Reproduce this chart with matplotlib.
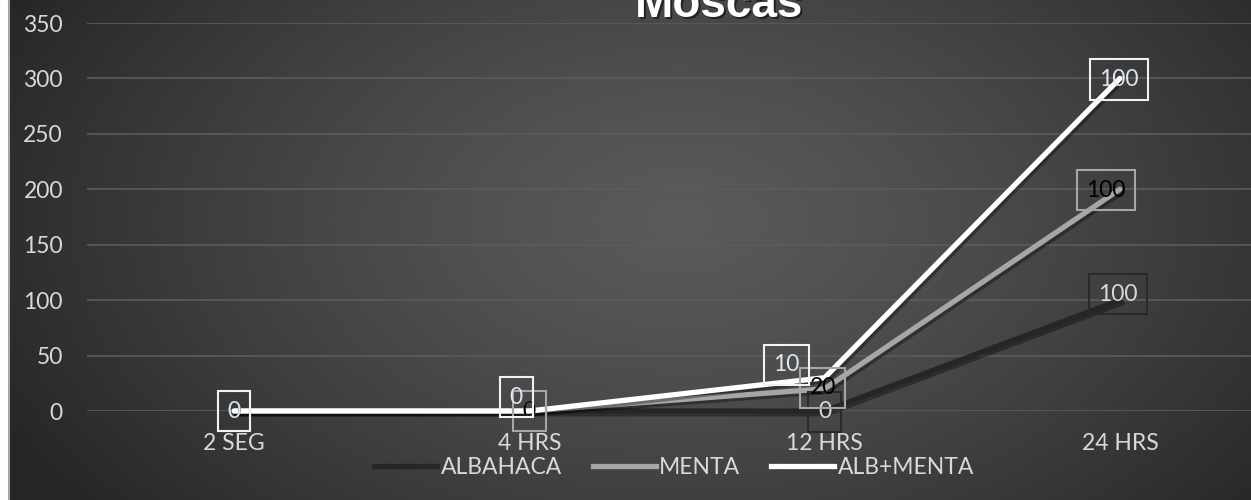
import numpy as np
import matplotlib.pyplot as plt
import matplotlib.patheffects as pe
from matplotlib.patches import Rectangle
from matplotlib.lines import Line2D

# data (stacked line chart, labels show the raw values)
categories = ["2 SEG", "4 HRS", "12 HRS", "24 HRS"]
albahaca = [0, 0, 0, 100]
menta = [0, 0, 20, 100]
alb_menta = [0, 0, 10, 100]
series_names = ["ALBAHACA", "MENTA", "ALB+MENTA"]
y_ticks = [0, 50, 100, 150, 200, 250, 300, 350]

W, H = 1251, 500
DPI = 100
fig = plt.figure(figsize=(W / DPI, H / DPI), dpi=DPI)

# radial background like the excel dark style
bg = fig.add_axes([0, 0, 1, 1], zorder=-10)
yy, xx = np.mgrid[0:H, 0:W]
r = np.sqrt(((xx - 680) / 760.0) ** 2 + ((yy - 220) / 470.0) ** 2)
r = np.clip(r, 0, 1) ** 1.3
c0 = np.array([0x5a, 0x5a, 0x5a]) / 255
c1 = np.array([0x26, 0x26, 0x26]) / 255
img = c0[None, None, :] * (1 - r[..., None]) + c1[None, None, :] * r[..., None]
bg.imshow(img, extent=[0, W, H, 0], aspect="auto")
bg.set_xlim(0, W)
bg.set_ylim(H, 0)
bg.axis("off")
bg.add_patch(Rectangle((0, 0), 8, H, color="white"))
bg.plot([8.5, 8.5], [0, H], color="#a6a6a6", lw=1.5)

# plot area in pixel coords
x0, x1 = 86.5, 1267.5
y_top, y_bot = 23, 411
ax = fig.add_axes([x0 / W, (H - y_bot) / H, (x1 - x0) / W, (y_bot - y_top) / H])
ax.set_facecolor("none")
ax.set_xlim(-0.5, 3.5)
ax.set_ylim(0, 350)
for s in ax.spines.values():
    s.set_visible(False)

fs = 16.5
font = "Lato"
ax.set_yticks(y_ticks)
ax.set_xticks(range(len(categories)))
ax.set_xticklabels(categories)
ax.tick_params(length=0, colors="#d9d9d9", labelsize=fs)
ax.tick_params(axis="y", pad=17)
ax.tick_params(axis="x", pad=16)
for lab in ax.get_xticklabels() + ax.get_yticklabels():
    lab.set_fontfamily(font)
ax.grid(axis="y", color="#5c5c5c", lw=1.2)
ax.set_axisbelow(True)

x = np.arange(len(categories))
s1 = np.array(albahaca)
s2 = s1 + np.array(menta)
s3 = s2 + np.array(alb_menta)
colors = ["#262626", "#a6a6a6", "#ffffff"]
lw = 3.8
shadow = [pe.SimpleLineShadow(offset=(1.5, -2), shadow_color="black", alpha=0.35), pe.Normal()]
for yv, col in zip([s1, s2, s3], colors):
    ax.plot(x, yv, color=col, lw=lw, solid_capstyle="round", path_effects=shadow,
            clip_on=False, zorder=3)

# data labels: (raw values, stacked y, text color, box edge color, pixel offsets)
label_sets = [
    (albahaca, s1, "#d9d9d9", "#2a2a2a", [(0, 0), (0, 0), (0, -1), (-2, 6)]),
    (menta, s2, "black", "#a6a6a6", [(0, 0), (0, 0), (-2, 1), (-14, -1)]),
    (alb_menta, s3, "#dde6f0", "#f2f2f2", [(0, 0), (-13, 14), (-38, 13), (-1, -1)]),
]
for k, (vals, ys, tc, ec, offs) in enumerate(label_sets):
    for i in range(len(categories)):
        ax.annotate(str(vals[i]), (x[i], ys[i]), xytext=offs[i], textcoords="offset pixels",
                    ha="center", va="center", fontsize=fs, fontfamily=font, color=tc,
                    bbox=dict(boxstyle="square,pad=0.42", fc="none", ec=ec, lw=1.5),
                    zorder=5 + k, annotation_clip=False)

# title with a soft shadow (top is cut off in the original too)
tx, ty = 719 / W, (H - 17) / H
fig.text(tx + 2 / W, ty - 2 / H, "Moscas", ha="center", va="baseline", fontsize=33,
         fontweight="bold", family="Liberation Sans", color="black", alpha=0.5)
fig.text(tx, ty, "Moscas", ha="center", va="baseline", fontsize=33,
         fontweight="bold", family="Liberation Sans", color="white")

handles = [Line2D([], [], color=c, lw=lw) for c in colors]
leg = fig.legend(handles, series_names, loc="center", bbox_to_anchor=(674 / W, (H - 468) / H),
                 ncol=3, frameon=False, handlelength=2.75, handletextpad=0.15,
                 columnspacing=1.35, prop={"family": font, "size": fs})
for t in leg.get_texts():
    t.set_color("#d9d9d9")

fig.savefig("out.png", dpi=DPI)
